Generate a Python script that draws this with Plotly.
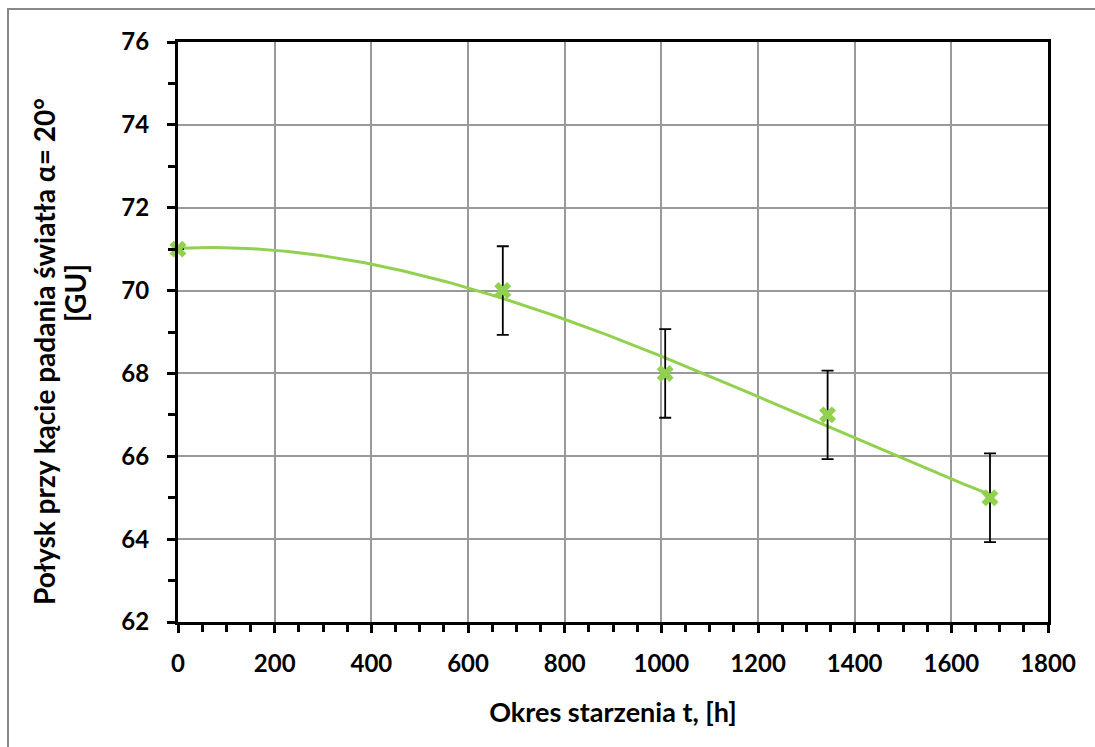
import numpy as np
import plotly.graph_objects as go

# data
hours = [0, 672, 1008, 1344, 1680]
gloss = [71, 70, 68, 67, 65]
err = [0, 1.07, 1.07, 1.07, 1.07]

x_ticks = [0, 200, 400, 600, 800, 1000, 1200, 1400, 1600, 1800]
y_ticks = [62, 64, 66, 68, 70, 72, 74, 76]

# polynomial trendline (3rd order) from data
coef = np.polyfit(hours, gloss, 3)
xs = np.linspace(0, 1680, 200)
ys = np.polyval(coef, xs)

green = "#92D050"
fig = go.Figure()
fig.add_trace(go.Scatter(x=xs, y=ys, mode="lines", line=dict(color=green, width=3),
                         hoverinfo="skip", showlegend=False))
fig.add_trace(go.Scatter(x=hours, y=gloss, mode="markers", cliponaxis=False,
                         marker=dict(symbol="x", size=15, color=green, line=dict(width=0)),
                         error_y=dict(type="data", array=err, visible=True, color="black",
                                      thickness=1.8, width=6),
                         showlegend=False))

font = "Lato, 'Open Sans', sans-serif"
L, T, PW, PH = 178, 42, 870, 580


def px(x):
    return (x - L) / PW


def py(y):
    return (T + PH - y) / PH


fig.update_layout(
    width=1095, height=747,
    margin=dict(l=178, r=47, t=42, b=125),
    paper_bgcolor="white", plot_bgcolor="white",
    font=dict(family=font, color="black"),
    xaxis=dict(range=[0, 1800], tickvals=x_ticks, ticks="outside", ticklen=8, tickwidth=3,
               tickcolor="black", showline=True, linecolor="black", linewidth=3, mirror=True,
               showgrid=True, gridcolor="#999999", gridwidth=1.5, zeroline=False,
               tickfont=dict(size=24, family=font, weight="bold"), ticklabelstandoff=10,
               minor=dict(dtick=50, ticks="outside", ticklen=7, tickwidth=3, tickcolor="black", showgrid=False),
               title=dict(text="<b>Okres starzenia t, [h]</b>", font=dict(size=27, family=font), standoff=28)),
    yaxis=dict(range=[62, 76], tickvals=y_ticks, ticks="outside", ticklen=8, tickwidth=3,
               tickcolor="black", showline=True, linecolor="black", linewidth=3, mirror=True,
               showgrid=True, gridcolor="#999999", gridwidth=1.5, zeroline=False,
               tickfont=dict(size=24, family=font, weight="bold"), ticklabelstandoff=13,
               minor=dict(dtick=1, ticks="outside", ticklen=7, tickwidth=3, tickcolor="black", showgrid=False)),
    annotations=[
        dict(text="<b>Połysk przy kącie padania światła α= 20°</b>", xref="paper", yref="paper",
             x=px(44), y=py(352), textangle=-90, showarrow=False, xanchor="center", yanchor="middle",
             font=dict(size=28, family=font, color="black")),
        dict(text="<b>[GU]</b>", xref="paper", yref="paper",
             x=px(75), y=py(293), textangle=-90, showarrow=False, xanchor="center", yanchor="middle",
             font=dict(size=28, family=font, color="black")),
    ],
    shapes=[dict(type="rect", xref="paper", yref="paper",
                 x0=px(8), x1=1.2, y0=-0.5, y1=py(9),
                 line=dict(color="#888888", width=2), fillcolor="rgba(0,0,0,0)", layer="below")],
)
fig.write_html("out.html")
